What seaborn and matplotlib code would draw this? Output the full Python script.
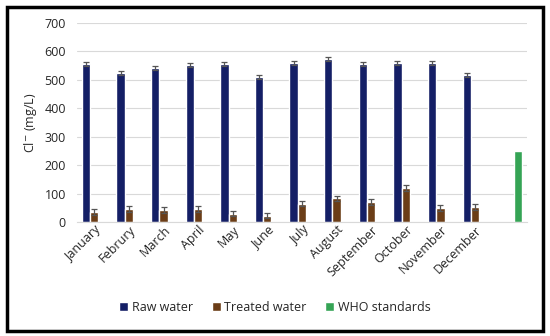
import matplotlib
matplotlib.use("Agg")
import matplotlib.pyplot as plt
import numpy as np
import pandas as pd
import seaborn as sns
from matplotlib.patches import Rectangle

months = ["January", "Februry", "March", "April", "May", "June", "July",
          "August", "September", "October", "November", "December"]
raw_water = [555, 525, 540, 553, 556, 510, 560, 572, 555, 560, 560, 516]
raw_err = [7, 7, 7, 7, 8, 7, 7, 7, 7, 7, 7, 7]
treated_water = [35, 45, 43, 45, 30, 22, 65, 83, 70, 120, 50, 53]
treated_err = [10, 10, 10, 10, 10, 9, 10, 10, 10, 10, 10, 10]
who_label = " "
who_value = 250

series = ["Raw water", "Treated water", "WHO standards"]
colors = ["#141f66", "#6b3d17", "#35a455"]

rows = []
for m, r, t in zip(months, raw_water, treated_water):
    rows.append({"month": m, "series": "Raw water", "value": r})
    rows.append({"month": m, "series": "Treated water", "value": t})
rows.append({"month": who_label, "series": "WHO standards", "value": who_value})
df = pd.DataFrame(rows)

sns.set_style("white")
plt.rcParams["font.family"] = ["Open Sans", "DejaVu Sans"]

fig = plt.figure(figsize=(5.5, 3.36), dpi=100)
ax = fig.add_axes([0.14, 0.339, 0.818, 0.593])

sns.barplot(data=df, x="month", y="value", hue="series", hue_order=series,
            order=months + [who_label], palette=colors, width=0.72,
            saturation=1, errorbar=None, ax=ax, legend=True)

# error bars at the centres of the drawn bars
for cont, errs in zip(ax.containers[:2], [raw_err, treated_err]):
    xs = [p.get_x() + p.get_width() / 2 for p in cont.patches]
    ys = [p.get_height() for p in cont.patches]
    ax.errorbar(xs, ys, yerr=errs, fmt="none", ecolor="#555555",
                elinewidth=0.9, capsize=2.5, capthick=0.9)

ax.set_xlim(-0.5, len(months) + 0.5)
ax.set_ylim(0, 700)
ax.set_yticks(range(0, 701, 100))
ax.yaxis.grid(True, color="#d9d9d9", linewidth=0.8)
ax.set_axisbelow(True)
sns.despine(ax=ax, left=True)
ax.spines["bottom"].set_color("#d9d9d9")
ax.set_xlabel("")
ax.set_ylabel(r"Cl$^{-}$ (mg/L)", fontsize=9, labelpad=4)
ax.tick_params(axis="y", labelsize=9, length=0, pad=8)
ax.tick_params(axis="x", length=0, pad=1)
plt.setp(ax.get_xticklabels(), rotation=45, ha="right",
         rotation_mode="anchor", fontsize=9)

handles, labels = ax.get_legend_handles_labels()
ax.legend(handles, labels, loc="center", bbox_to_anchor=(0.5, 0.085),
          bbox_transform=fig.transFigure, ncol=3, frameon=False,
          fontsize=9, handlelength=0.7, handleheight=0.7,
          handletextpad=0.3, columnspacing=1.5)

fig.patches.append(Rectangle((0.012, 0.015), 0.975, 0.965,
                             transform=fig.transFigure, fill=False,
                             edgecolor="black", linewidth=2.5))

fig.savefig("out.png", dpi=100)
